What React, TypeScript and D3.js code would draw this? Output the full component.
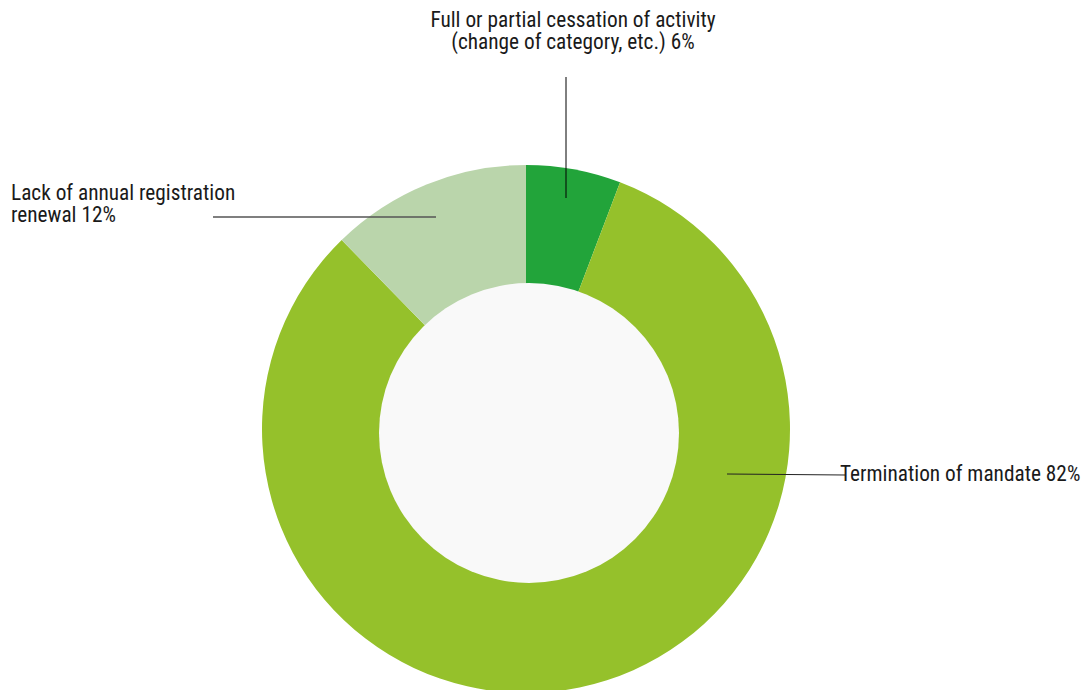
import React from "react";
import * as d3 from "d3";

const categories = [
  "Full or partial cessation of activity (change of category, etc.)",
  "Termination of mandate",
  "Lack of annual registration renewal",
];
const values = [5.8, 81.9, 12.3];
const labelPercents = ["6%", "82%", "12%"];
const colors = ["#22a43a", "#95c12b", "#bad5ab"];

const W = 1087;
const H = 690;
const cx = 526;
const cy = 429;
const outerR = 264;
const holeCx = 529;
const holeCy = 433;
const holeR = 150;
const FONT = "'Liberation Sans Narrow', 'Roboto Condensed', 'Arial Narrow', 'DejaVu Sans Condensed', sans-serif";

export default function App() {
  const pie = d3.pie<number>().sort(null).value((d) => d)(values);
  const arc = d3.arc<d3.PieArcDatum<number>>().innerRadius(0).outerRadius(outerR);
  return (
    <div style={{ position: "absolute", left: 0, top: 0 }}>
      <svg width={W} height={H} style={{ display: "block" }}>
        <rect width={W} height={H} fill="#ffffff" />
        <g transform={`translate(${cx},${cy})`}>
          {pie.map((p, i) => (
            <path key={i} d={arc(p) || ""} fill={colors[i]} />
          ))}
        </g>
        <circle cx={holeCx} cy={holeCy} r={holeR} fill="#f9f9f9" />
        {/* leader lines */}
        <line x1={566} y1={77} x2={566} y2={198} stroke="#000" strokeWidth={1} />
        <line x1={213} y1={217} x2={436} y2={217} stroke="#555" strokeWidth={1.3} />
        <line x1={727} y1={474} x2={845} y2={475} stroke="#222" strokeWidth={1} />
        <g fontFamily={FONT} fontSize={21.3} fill="#1a1a1a">
          <text x={573} y={27} textAnchor="middle">Full or partial cessation of activity</text>
          <text x={573} y={49} textAnchor="middle">{"(change of category, etc.) " + labelPercents[0]}</text>
          <text x={11} y={200}>Lack of annual registration</text>
          <text x={11} y={222}>{"renewal " + labelPercents[2]}</text>
          <text x={840} y={481}>{categories[1] + " " + labelPercents[1]}</text>
        </g>
      </svg>
    </div>
  );
}
